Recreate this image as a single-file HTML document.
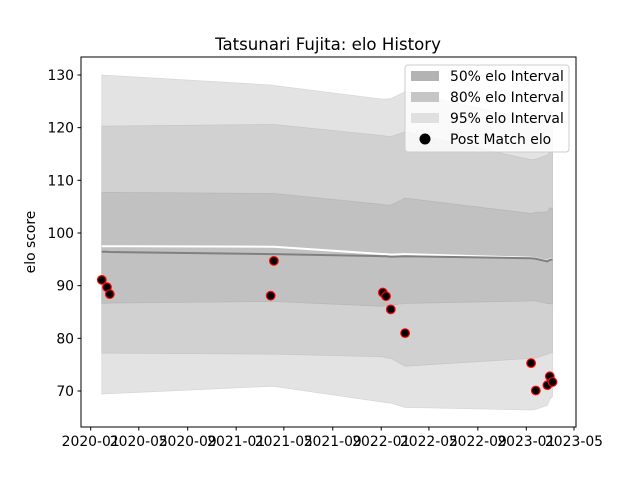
<!DOCTYPE html>
<html><head><meta charset="utf-8">
<style>body{margin:0;background:#fff}svg{display:block;font-family:"DejaVu Sans","Liberation Sans",sans-serif}</style>
</head><body>
<svg id="chart" width="640" height="480" viewBox="0 0 640 480" xmlns="http://www.w3.org/2000/svg">
<rect width="640" height="480" fill="#fff"/>
<text x="328" y="50" font-size="16.6" text-anchor="middle">Tatsunari Fujita: elo History</text>
<text transform="translate(35,242) rotate(-90)" font-size="13.9" text-anchor="middle">elo score</text>
<g id="bands"></g><g id="lines"></g><g id="pts"></g><g id="axes"></g>
<rect x="81" y="57" width="495" height="370" fill="none" stroke="#000" stroke-width="1"/>
<g>
<rect x="405" y="65" width="164" height="87" rx="3" fill="#fff" fill-opacity="0.8" stroke="#ccc"/>
<rect x="411" y="71" width="28" height="10" fill="#b3b3b3"/>
<text x="450" y="81" font-size="13.9">50% elo Interval</text>
<rect x="411" y="92" width="28" height="10" fill="#c6c6c6"/>
<text x="450" y="102" font-size="13.9">80% elo Interval</text>
<rect x="411" y="113" width="28" height="10" fill="#e0e0e0"/>
<text x="450" y="123" font-size="13.9">95% elo Interval</text>
<circle cx="425" cy="139" r="5.5" fill="#000"/>
<text x="450" y="144" font-size="13.9">Post Match elo</text>
</g>
</svg>
<script>
const dates=["2020-01-29","2020-02-11","2020-02-18","2021-03-29","2021-04-06","2022-01-05","2022-01-13","2022-01-25","2022-03-02","2023-01-13","2023-01-25","2023-02-23","2023-03-01","2023-03-08"];
const postElo=[91.1,89.7,88.4,88.1,94.7,88.7,88.0,85.5,81.0,75.3,70.1,71.1,72.8,71.7];
const meanElo=[96.45,96.45,96.4,96.0,96.0,95.6,95.6,95.5,95.6,95.2,95.1,94.6,94.9,95.0];
const whiteLine=[97.5,97.5,97.5,97.4,97.4,96.0,96.0,95.9,96.0,95.3,95.2,94.7,95.0,95.1];
const u50=[107.7,107.7,107.7,107.5,107.5,105.4,105.3,105.3,106.6,103.7,103.9,104.0,104.7,104.7];
const l50=[86.65,86.65,86.7,87.0,87.0,86.1,86.2,86.3,86.65,87.1,87.1,86.6,86.6,86.5];
const u80=[120.3,120.3,120.3,120.6,120.6,118.5,118.4,118.3,119.2,113.9,114.0,114.8,115.3,115.5];
const l80=[77.2,77.2,77.2,77.0,77.0,76.5,76.3,76.2,74.7,76.2,76.3,77.0,77.2,77.3];
const u95=[130,129.9,129.9,128.1,128.0,125.4,125.4,125.5,126.8,121.5,121.6,122.5,123,123.2];
const l95=[69.4,69.5,69.5,70.9,70.9,67.9,67.8,67.7,66.9,66.4,66.5,67.3,68.5,69.0];
const yTicks=[70,80,90,100,110,120,130];
const xTicks=["2020-01","2020-05","2020-09","2021-01","2021-05","2021-09","2022-01","2022-05","2022-09","2023-01","2023-05"];

const NS="http://www.w3.org/2000/svg";
const t0=Date.UTC(2020,0,1), t1=Date.UTC(2023,4,1);
function X(s){const p=s.split("-").map(Number);const t=Date.UTC(p[0],p[1]-1,p[2]||1);return 90.7+(t-t0)/(t1-t0)*483.3;}
function Y(v){return 391-(v-70)*5.267;}
function mk(tag,attrs,parent){const e=document.createElementNS(NS,tag);for(const k in attrs)e.setAttribute(k,attrs[k]);document.getElementById(parent).appendChild(e);return e;}
function band(up,lo,fill,edge,name){
  let d="M"+dates.map((s,i)=>X(s).toFixed(1)+","+Y(up[i]).toFixed(1)).join("L");
  for(let i=dates.length-1;i>=0;i--)d+="L"+X(dates[i]).toFixed(1)+","+Y(lo[i]).toFixed(1);
  const e=mk("path",{d:d+"Z",fill:fill,stroke:edge,"stroke-width":"0.8"},"bands");
  
  
}
band(u95,l95,"#e3e3e3","#d8d8d8","band-95");
band(u80,l80,"#d1d1d1","#c8c8c8","band-80");
band(u50,l50,"#c1c1c1","#b8b8b8","band-50");
function line(vals,color,w,name){
  const e=mk("polyline",{points:dates.map((s,i)=>X(s).toFixed(1)+","+Y(vals[i]).toFixed(1)).join(" "),fill:"none",stroke:color,"stroke-width":w},"lines");
  
  
}
line(whiteLine,"#ffffff",2,"white-line");
line(meanElo,"#808080",2,"mean-elo-line");
postElo.forEach((v,i)=>{
  const c=mk("circle",{cx:X(dates[i]).toFixed(1),cy:Y(v).toFixed(1),r:4.3,fill:"#000",stroke:"#f00","stroke-width":1.2},"pts");
  
  
});
yTicks.forEach(v=>{
  const y=Y(v);
  const l=mk("line",{x1:77.5,x2:81,y1:y,y2:y,stroke:"#000"},"axes");
  
  
  const t=mk("text",{x:74,y:y+5,"font-size":"13.9","text-anchor":"end"},"axes");
  
  
  t.textContent=v;
});
xTicks.forEach(s=>{
  const x=X(s);
  const l=mk("line",{x1:x,x2:x,y1:427,y2:430.5,stroke:"#000"},"axes");
  
  
  const t=mk("text",{x:x,y:446,"font-size":"13.9","text-anchor":"middle"},"axes");
  
  
  t.textContent=s;
});
</script>
</body></html>
